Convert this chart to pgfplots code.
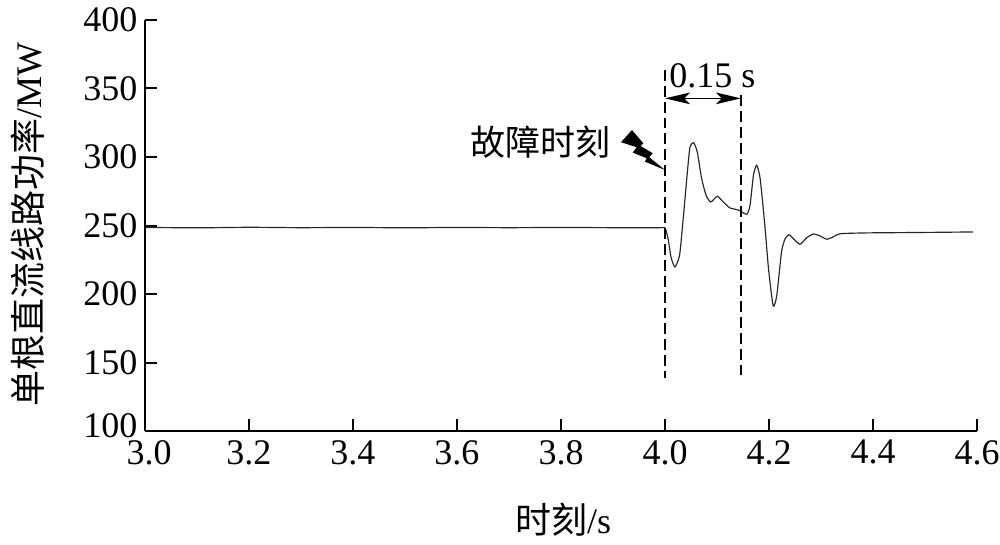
\documentclass[border=0pt]{standalone}
\usepackage{fontspec}
\setmainfont{Liberation Serif}
\newfontfamily\cjk{Noto Sans CJK SC}
\usepackage{pgfplots}
\pgfplotsset{compat=1.18}
\usetikzlibrary{arrows.meta}
\begin{document}
\begin{tikzpicture}
\begin{axis}[
    scale only axis,
    width=499.2pt,
    height=246.6pt,
    xmin=3, xmax=4.6,
    ymin=100, ymax=400,
    clip=false,
    axis x line*=bottom,
    axis y line*=left,
    axis line style={line width=1.4pt},
    every tick/.style={black,line width=1.2pt},
    tick align=inside,
    major tick length=7.4pt,
    xtick={3.0,3.2,3.4,3.6,3.8,4.0,4.2,4.4,4.6},
    xticklabels={\kern 5pt 3.0,3.2,3.4,3.6,3.8,4.0,4.2,4.4,4.6},
    ytick={100,150,200,250,300,350,400},
    yticklabels={\raisebox{6.9pt}{100},150,200,250,300,350,400},
    tick label style={font=\fontsize{21.6}{24}\selectfont},
    xticklabel style={yshift=-2pt},
    yticklabel style={xshift=-1pt},
]
\addplot[line width=0.7pt,color=black!85,smooth,tension=0.35] coordinates {
    (3.000,248.6) (3.100,248.3) (3.200,248.7) (3.300,248.4) (3.400,248.6) (3.500,248.3)
    (3.600,248.6) (3.700,248.4) (3.800,248.6) (3.900,248.4) (3.990,248.4)
    (4.000,248.2) (4.006,240.4) (4.0115,227.0) (4.019,219.7) (4.028,228.3) (4.035,255.0)
    (4.043,289.0) (4.048,307.3) (4.055,310.5) (4.062,303.7) (4.0705,284.2) (4.079,272.0)
    (4.088,267.2) (4.1006,271.3) (4.112,267.2) (4.125,262.8) (4.141,261.3) (4.157,258.2)
    (4.1635,264.7) (4.170,286.6) (4.1763,294.0) (4.183,284.2) (4.192,250.0) (4.199,218.5)
    (4.208,191.3) (4.215,199.0) (4.224,230.7) (4.231,240.4) (4.2385,243.3) (4.247,240.4)
    (4.2596,236.3) (4.272,240.9) (4.285,243.8) (4.298,242.4) (4.311,240.0) (4.3237,241.7)
    (4.3365,244.0) (4.388,244.6) (4.452,244.8) (4.516,245.0) (4.592,245.3)
};
% dashed markers
\addplot[line width=1.2pt,black,dash pattern=on 6.5pt off 3pt] coordinates {(4.0,363.5) (4.0,138.7)};
\addplot[line width=1.2pt,black,dash pattern=on 6.5pt off 3pt] coordinates {(4.146,345) (4.146,138.7)};
% lightning bolt
\addplot[fill=black,draw=none] coordinates {
    (3.9154,310.8) (3.9365,319.7) (3.9583,310.0) (3.9533,308.0) (3.9763,302.7) (3.9698,299.8)
    (4.000,290.5) (3.9615,296.6) (3.9648,299.1) (3.9379,303.2) (3.9456,307.1) (3.9154,310.8)
} --cycle;
\draw[{Stealth[length=15pt,width=7pt,inset=3.5pt]}-{Stealth[length=15pt,width=7pt,inset=3.5pt]},line width=0.8pt]
    (axis cs:4.0,342.8) -- (axis cs:4.146,342.8);
\node[anchor=base west,inner sep=0pt,font=\fontsize{21.6}{24}\selectfont] at (axis cs:4.0077,350.4) {0.15 s};
\node[inner sep=0pt,font=\fontsize{21}{24}\cjk] at (axis cs:3.7615,311) {故障时刻};
\node[rotate=90,inner sep=0pt,font=\fontsize{21.6}{24}\selectfont] at (axis cs:2.775,250.4) {{\cjk 单根直流线路功率}/MW};
\node[inner sep=0pt,font=\fontsize{21.6}{24}\selectfont] at (axis cs:3.804,35) {{\cjk 时刻}/s};
% corners of the reference page
\coordinate (pagea) at (axis cs:2.7212,414.6);
\coordinate (pageb) at (axis cs:4.6442,17.5);
\end{axis}
\pgfresetboundingbox
\path[use as bounding box] (pagea) rectangle (pageb);
\end{tikzpicture}
\end{document}
